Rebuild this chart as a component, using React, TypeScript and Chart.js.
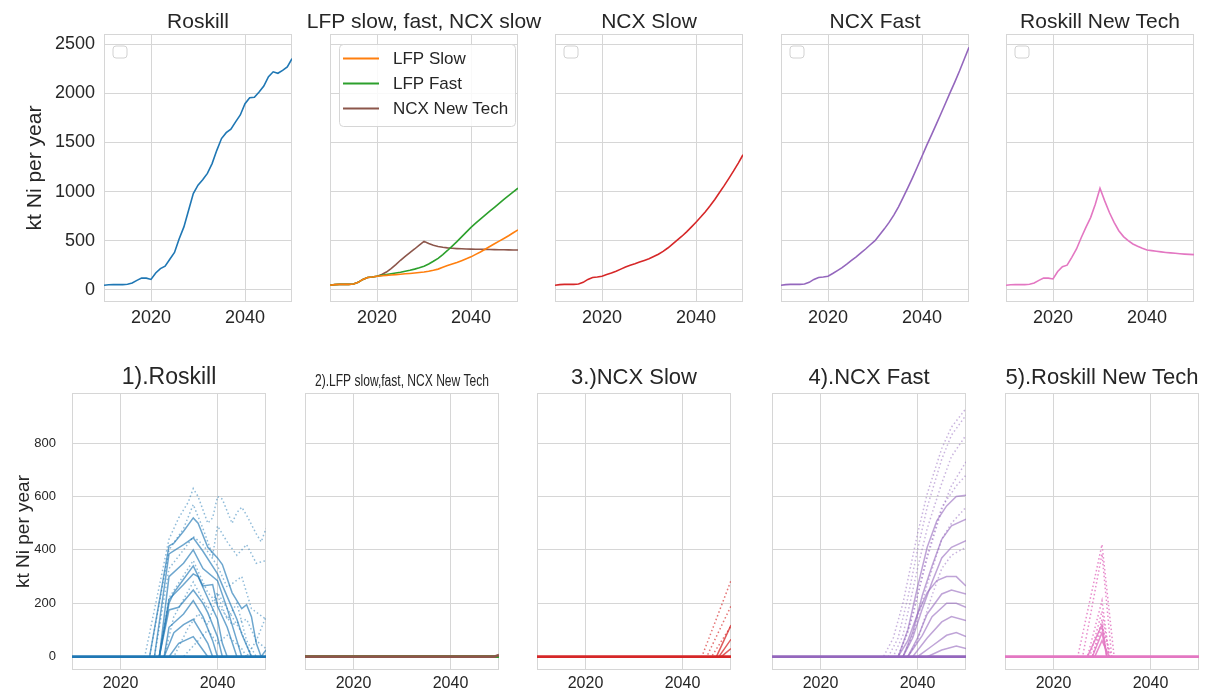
import React, { useEffect, useRef } from "react";
import { Chart, registerables } from "chart.js";

Chart.register(...registerables);

const FONT = "'Liberation Sans', Arial, Helvetica, sans-serif";
const TEXT = "#262626";
const GRID = "#d6d6d6";

// ---------- axes ----------
const YEARS = [
  2010, 2011, 2012, 2013, 2014, 2015, 2016, 2017, 2018, 2019, 2020,
  2021, 2022, 2023, 2024, 2025, 2026, 2027, 2028, 2029, 2030,
  2031, 2032, 2033, 2034, 2035, 2036, 2037, 2038, 2039, 2040,
  2041, 2042, 2043, 2044, 2045, 2046, 2047, 2048, 2049, 2050,
];
const X_TICKS = [2020, 2040];
const TOP_Y_TICKS = [0, 500, 1000, 1500, 2000, 2500];
const BOTTOM_Y_TICKS = [0, 200, 400, 600, 800];

// ---------- top row series (kt Ni per year) ----------
const ROSKILL = [
  45, 50, 52, 52, 52, 55, 68, 95, 118, 118, 105,
  170, 215, 240, 310, 380, 520, 640, 810, 980, 1065,
  1120, 1185, 1285, 1420, 1540, 1600, 1635, 1710, 1780, 1895,
  1955, 1960, 2015, 2075, 2170, 2220, 2205, 2235, 2270, 2355,
];
const LFP_SLOW = [
  45, 52, 55, 55, 55, 58, 75, 105, 125, 130, 138,
  142, 146, 150, 154, 158, 162, 166, 170, 175, 180,
  188, 198, 210, 228, 247, 262, 278, 296, 315, 335,
  360, 385, 412, 440, 468, 495, 522, 550, 580, 610,
];
const LFP_FAST = [
  45, 52, 55, 55, 55, 58, 75, 105, 125, 130, 138,
  146, 155, 163, 170, 178, 188, 198, 210, 224, 240,
  262, 290, 320, 358, 400, 445, 490, 538, 587, 635,
  678, 720, 760, 800, 840, 880, 920, 958, 996, 1035,
];
const NCX_NEW_TECH = [
  45, 52, 55, 55, 55, 58, 75, 105, 125, 130, 138,
  155, 180, 215, 255, 300, 340, 378, 415, 455, 493,
  470, 452, 440, 432, 426, 422, 419, 417, 415, 414,
  413, 412, 411, 410, 409, 408, 407, 406, 405, 405,
];
const NCX_SLOW = [
  45, 52, 55, 55, 55, 58, 75, 105, 125, 130, 138,
  155, 170, 188, 210, 232, 250, 265, 282, 298, 315,
  338, 362, 390, 425, 465, 505, 545, 590, 638, 688,
  740, 795, 855, 920, 990, 1060, 1135, 1210, 1290, 1375,
];
const NCX_FAST = [
  45, 52, 55, 55, 55, 58, 75, 105, 125, 130, 138,
  165, 195, 225, 260, 298, 335, 375, 415, 458, 500,
  560, 620, 686, 760, 845, 940, 1040, 1142, 1250, 1360,
  1470, 1575, 1682, 1790, 1900, 2010, 2118, 2230, 2350, 2470,
];
const ROSKILL_NEW_TECH = [
  45, 50, 52, 52, 52, 55, 68, 95, 118, 118, 110,
  185, 235, 250, 330, 415, 530, 635, 735, 870, 1034,
  905, 787, 686, 601, 541, 500, 466, 443, 422, 405,
  398, 392, 386, 380, 375, 371, 367, 363, 360, 358,
];

// ---------- bottom row series: [year, kt Ni per year] ----------
type Pair = [number, number];
const ZERO_LINE: Pair[] = [[2010, 0], [2050, 0]];

const B1_SOLID: Pair[][] = [
  [[2010, 0], [2026, 0], [2030, 415], [2031, 425], [2033, 470], [2035, 520], [2036, 500], [2038, 410], [2040, 370], [2041, 345], [2043, 240], [2045, 180], [2046, 195], [2047, 150], [2048, 50], [2049, 0], [2050, 25]],
  [[2010, 0], [2027, 0], [2030, 385], [2033, 420], [2035, 445], [2037, 395], [2040, 310], [2042, 225], [2044, 140], [2045, 85], [2047, 0], [2050, 0]],
  [[2010, 0], [2028, 0], [2030, 300], [2033, 350], [2035, 400], [2037, 330], [2040, 285], [2042, 180], [2044, 60], [2045, 0], [2050, 0]],
  [[2010, 0], [2028, 0], [2030, 200], [2031, 240], [2033, 290], [2035, 340], [2037, 265], [2039, 270], [2040, 190], [2042, 110], [2044, 0], [2050, 0]],
  [[2010, 0], [2028, 0], [2030, 215], [2033, 270], [2035, 310], [2036, 300], [2038, 220], [2040, 140], [2041, 50], [2042, 0], [2050, 0]],
  [[2010, 0], [2028, 0], [2030, 175], [2032, 185], [2035, 250], [2037, 200], [2038, 165], [2040, 75], [2041, 0], [2050, 0]],
  [[2010, 0], [2029, 0], [2030, 110], [2033, 160], [2035, 210], [2037, 150], [2039, 60], [2040, 0], [2050, 0]],
  [[2010, 0], [2029, 0], [2031, 90], [2033, 120], [2035, 140], [2037, 80], [2038, 50], [2039, 0], [2050, 0]],
  [[2010, 0], [2030, 0], [2032, 50], [2035, 75], [2037, 25], [2038, 0], [2050, 0]],
];
const B1_DOTTED: Pair[][] = [
  [[2010, 0], [2025, 0], [2030, 440], [2032, 520], [2034, 580], [2035, 630], [2036, 600], [2038, 500], [2039, 520], [2040, 600], [2041, 590], [2043, 500], [2044, 540], [2045, 560], [2046, 530], [2048, 460], [2049, 430], [2050, 480]],
  [[2010, 0], [2026, 0], [2030, 400], [2033, 480], [2035, 570], [2037, 480], [2039, 380], [2040, 490], [2042, 430], [2044, 380], [2046, 420], [2048, 350], [2050, 360]],
  [[2010, 0], [2027, 0], [2030, 330], [2033, 400], [2035, 450], [2037, 420], [2040, 340], [2042, 260], [2045, 300], [2047, 180], [2050, 140]],
  [[2010, 0], [2028, 0], [2030, 220], [2035, 360], [2038, 240], [2040, 200], [2043, 120], [2046, 140], [2048, 60], [2050, 30]],
  [[2010, 0], [2029, 0], [2031, 150], [2035, 280], [2038, 180], [2040, 240], [2043, 150], [2045, 90], [2047, 0], [2050, 0]],
  [[2010, 0], [2031, 0], [2034, 110], [2036, 160], [2038, 120], [2040, 230], [2042, 140], [2044, 200], [2046, 60], [2048, 0], [2050, 0]],
  [[2010, 0], [2033, 0], [2036, 60], [2038, 100], [2040, 50], [2042, 80], [2045, 30], [2046, 0], [2050, 0]],
  [[2010, 0], [2046, 0], [2048, 60], [2050, 150]],
];

const B2_LFP_SLOW: Pair[] = [[2010, 0], [2050, 0]];
const B2_LFP_FAST: Pair[] = [[2010, 0], [2050, 0]];
const B2_NCX_NEW_TECH: Pair[] = [[2010, 0], [2049, 0], [2050, 6]];

const B3_SOLID: Pair[][] = [
  [[2010, 0], [2047, 0], [2050, 118]],
  [[2010, 0], [2047.5, 0], [2050, 65]],
  [[2010, 0], [2048, 0], [2050, 30]],
];
const B3_DOTTED: Pair[][] = [
  [[2010, 0], [2044, 0], [2050, 285]],
  [[2010, 0], [2045, 0], [2050, 190]],
  [[2010, 0], [2046, 0], [2050, 115]],
];

const B4_SOLID: Pair[][] = [
  [[2010, 0], [2036, 0], [2038, 100], [2040, 260], [2042, 410], [2044, 510], [2046, 565], [2048, 600], [2050, 605]],
  [[2010, 0], [2037, 0], [2039, 90], [2041, 230], [2043, 340], [2045, 440], [2047, 490], [2050, 515]],
  [[2010, 0], [2037, 0], [2039, 70], [2041, 180], [2043, 280], [2045, 370], [2047, 410], [2050, 435]],
  [[2010, 0], [2036, 0], [2038, 60], [2040, 160], [2042, 240], [2044, 285], [2046, 300], [2048, 300], [2050, 265]],
  [[2010, 0], [2038, 0], [2040, 70], [2042, 160], [2045, 235], [2047, 250], [2050, 235]],
  [[2010, 0], [2038, 0], [2041, 80], [2043, 150], [2046, 200], [2048, 200], [2050, 185]],
  [[2010, 0], [2039, 0], [2042, 70], [2045, 130], [2047, 150], [2050, 135]],
  [[2010, 0], [2040, 0], [2043, 40], [2046, 80], [2048, 90], [2050, 75]],
  [[2010, 0], [2042, 0], [2045, 25], [2048, 40], [2050, 30]],
];
const B4_DOTTED: Pair[][] = [
  [[2010, 0], [2033, 0], [2035, 70], [2037, 200], [2040, 460], [2042, 610], [2045, 780], [2047, 860], [2050, 930]],
  [[2010, 0], [2034, 0], [2036, 70], [2038, 220], [2040, 400], [2042, 560], [2045, 740], [2047, 830], [2050, 905]],
  [[2010, 0], [2035, 0], [2037, 80], [2040, 330], [2042, 480], [2045, 650], [2047, 750], [2050, 830]],
  [[2010, 0], [2036, 0], [2038, 90], [2040, 230], [2042, 370], [2045, 550], [2047, 640], [2050, 730]],
  [[2010, 0], [2036, 0], [2039, 150], [2042, 380], [2045, 560], [2048, 640], [2050, 680]],
  [[2010, 0], [2037, 0], [2039, 80], [2042, 270], [2045, 440], [2047, 500], [2050, 560]],
  [[2010, 0], [2038, 0], [2040, 60], [2043, 230], [2045, 330], [2047, 380], [2050, 410]],
];

const B5_SOLID: Pair[][] = [
  [[2010, 0], [2027, 0], [2030, 120], [2031, 0], [2050, 0]],
  [[2010, 0], [2028, 0], [2030, 90], [2031, 0], [2050, 0]],
  [[2010, 0], [2028.5, 0], [2030, 60], [2031.5, 0], [2050, 0]],
];
const B5_DOTTED: Pair[][] = [
  [[2010, 0], [2025, 0], [2030, 420], [2032.5, 0], [2050, 0]],
  [[2010, 0], [2026, 0], [2030, 385], [2032, 0], [2050, 0]],
  [[2010, 0], [2027, 0], [2030, 210], [2031.5, 0], [2050, 0]],
  [[2010, 0], [2027.5, 0], [2030, 170], [2031.5, 0], [2050, 0]],
  [[2010, 0], [2028, 0], [2030, 140], [2031, 0], [2050, 0]],
  [[2010, 0], [2028, 0], [2030, 110], [2032, 0], [2050, 0]],
];

// ---------- styles ----------
const COLORS = {
  blue: [31, 119, 180],
  orange: [255, 127, 14],
  green: [44, 160, 44],
  red: [214, 39, 40],
  purple: [148, 103, 189],
  brown: [140, 86, 75],
  pink: [227, 119, 194],
};
const rgba = (c: number[], a: number) => `rgba(${c[0]},${c[1]},${c[2]},${a})`;

const yearLine = (label: string, values: number[], color: number[]) => ({
  label,
  data: values.map((v, i) => ({ x: YEARS[i], y: v })),
  borderColor: rgba(color, 1),
  borderWidth: 1.6,
  pointRadius: 0,
  tension: 0,
  fill: false,
});

const pairLine = (pairs: Pair[], color: number[], alpha: number, dotted: boolean, width = 1.5) => ({
  label: "",
  data: pairs.map(([x, y]) => ({ x, y })),
  borderColor: rgba(color, alpha),
  borderWidth: width,
  borderDash: dotted ? [1.5, 2.5] : [],
  borderCapStyle: "butt",
  pointRadius: 0,
  tension: 0,
  fill: false,
});

// Chart.js paints dataset 0 on top, so the list runs top-most first.
const bottomSet = (solid: Pair[][], dotted: Pair[][], color: number[], dotAlpha = 0.55, solidAlpha = 0.6) => [
  pairLine(ZERO_LINE, color, 1, false, 2.6),
  ...solid.map((s) => pairLine(s, color, solidAlpha, false)),
  ...dotted.map((s) => pairLine(s, color, dotAlpha, true)),
];

// ---------- panel layout ----------
type PanelSpec = {
  key: string;
  title: string;
  titleSize: number;
  titleMaxWidth?: number;
  titleGap: number;
  plotLeft: number;
  plotTop: number;
  plotW: number;
  plotH: number;
  L: number;
  T: number;
  R: number;
  B: number;
  yMin: number;
  yMax: number;
  yTicks: number[];
  showY: boolean;
  yLabel?: string;
  yLabelSize: number;
  yLabelPad: number;
  yTickSize: number;
  yTickPad: number;
  xTickSize: number;
  xTickPad: number;
  emptyLegend?: boolean;
  legend?: boolean;
  datasets: any[];
};

const TOP_LEFTS = [104, 330, 555, 781, 1006];
const BOTTOM_LEFTS = [72, 305, 537, 772, 1005];

const topPanel = (i: number, title: string, datasets: any[], extra: Partial<PanelSpec> = {}): PanelSpec => ({
  key: "t" + i,
  title,
  titleSize: 21,
  titleGap: 6,
  plotLeft: TOP_LEFTS[i],
  plotTop: 34,
  plotW: 188,
  plotH: 268,
  L: i === 0 ? TOP_LEFTS[0] : 34,
  T: 34,
  R: 34,
  B: 40,
  yMin: -125,
  yMax: 2605,
  yTicks: TOP_Y_TICKS,
  showY: i === 0,
  yLabel: i === 0 ? "kt Ni per year" : undefined,
  yLabelSize: 21,
  yLabelPad: 22.4,
  yTickSize: 18,
  yTickPad: 9,
  xTickSize: 18,
  xTickPad: 5,
  datasets,
  ...extra,
});

const bottomPanel = (i: number, title: string, datasets: any[], extra: Partial<PanelSpec> = {}): PanelSpec => ({
  key: "b" + i,
  title,
  titleSize: 22,
  titleGap: 9,
  plotLeft: BOTTOM_LEFTS[i],
  plotTop: 393,
  plotW: 194,
  plotH: 277,
  L: i === 0 ? BOTTOM_LEFTS[0] : 30,
  T: 43,
  R: 30,
  B: 25,
  yMin: -50,
  yMax: 988,
  yTicks: BOTTOM_Y_TICKS,
  showY: i === 0,
  yLabel: i === 0 ? "kt Ni per year" : undefined,
  yLabelSize: 19,
  yLabelPad: 12.6,
  yTickSize: 13,
  yTickPad: 16,
  xTickSize: 16,
  xTickPad: 4,
  datasets,
  ...extra,
});

const PANELS: PanelSpec[] = [
  topPanel(0, "Roskill", [yearLine("Roskill", ROSKILL, COLORS.blue)], { emptyLegend: true }),
  topPanel(
    1,
    "LFP slow, fast, NCX slow",
    [
      yearLine("LFP Slow", LFP_SLOW, COLORS.orange),
      yearLine("LFP Fast", LFP_FAST, COLORS.green),
      yearLine("NCX New Tech", NCX_NEW_TECH, COLORS.brown),
    ],
    { legend: true }
  ),
  topPanel(2, "NCX Slow", [yearLine("NCX Slow", NCX_SLOW, COLORS.red)], { emptyLegend: true }),
  topPanel(3, "NCX Fast", [yearLine("NCX Fast", NCX_FAST, COLORS.purple)], { emptyLegend: true }),
  topPanel(4, "Roskill New Tech", [yearLine("Roskill New Tech", ROSKILL_NEW_TECH, COLORS.pink)], { emptyLegend: true }),
  bottomPanel(0, "1).Roskill", bottomSet(B1_SOLID, B1_DOTTED, COLORS.blue, 0.5, 0.65), { titleSize: 23 }),
  bottomPanel(
    1,
    "2).LFP slow,fast, NCX New Tech",
    [
      pairLine(B2_NCX_NEW_TECH, COLORS.brown, 1, false, 2.6),
      pairLine(B2_LFP_FAST, COLORS.green, 1, false, 2.6),
      pairLine(B2_LFP_SLOW, COLORS.orange, 1, false, 2.6),
    ],
    { titleSize: 16, titleMaxWidth: 174, titleGap: 7 }
  ),
  bottomPanel(2, "3.)NCX Slow", bottomSet(B3_SOLID, B3_DOTTED, COLORS.red, 0.65, 0.75)),
  bottomPanel(3, "4).NCX Fast", bottomSet(B4_SOLID, B4_DOTTED, COLORS.purple, 0.5, 0.6)),
  bottomPanel(4, "5).Roskill New Tech", bottomSet(B5_SOLID, B5_DOTTED, COLORS.pink, 0.85, 0.85)),
];

function Panel({ p }: { p: PanelSpec }) {
  const ref = useRef<HTMLCanvasElement>(null);
  const w = p.L + p.plotW + p.R;
  const h = p.T + p.plotH + p.B;

  useEffect(() => {
    const canvas = ref.current;
    if (!canvas) return;

    const deco = {
      id: "panelDeco",
      beforeDatasetsDraw(chart: any) {
        const { ctx, chartArea } = chart;
        const { left, top, right, bottom } = chartArea;
        ctx.save();
        ctx.strokeStyle = GRID;
        ctx.lineWidth = 1;
        ctx.strokeRect(Math.round(left) + 0.5, Math.round(top) + 0.5, Math.round(right - left) - 1, Math.round(bottom - top) - 1);
        ctx.restore();
      },
      afterDraw(chart: any) {
        const { ctx, chartArea } = chart;
        const { left, top, right } = chartArea;
        ctx.save();
        // title
        ctx.font = `${p.titleSize}px ${FONT}`;
        ctx.fillStyle = TEXT;
        ctx.textAlign = "center";
        ctx.textBaseline = "alphabetic";
        const cx = (left + right) / 2;
        if (p.titleMaxWidth) ctx.fillText(p.title, cx, top - p.titleGap, p.titleMaxWidth);
        else ctx.fillText(p.title, cx, top - p.titleGap);

        // empty legend frame (legend with no entries)
        if (p.emptyLegend) {
          ctx.beginPath();
          ctx.roundRect(left + 9, top + 12, 14, 12, 3);
          ctx.fillStyle = "#ffffff";
          ctx.fill();
          ctx.strokeStyle = "#d2d2d2";
          ctx.lineWidth = 1;
          ctx.stroke();
        }

        // legend
        if (p.legend) {
          const lx = left + 9;
          const ly = top + 10;
          ctx.beginPath();
          ctx.roundRect(lx + 0.5, ly + 0.5, 176, 82, 4);
          ctx.fillStyle = "rgba(255,255,255,0.85)";
          ctx.fill();
          ctx.strokeStyle = "#d6d6d6";
          ctx.lineWidth = 1;
          ctx.stroke();
          ctx.font = `17px ${FONT}`;
          ctx.textAlign = "left";
          ctx.textBaseline = "middle";
          chart.data.datasets.forEach((ds: any, k: number) => {
            const yy = ly + 14.5 + k * 25;
            ctx.beginPath();
            ctx.moveTo(lx + 4, yy);
            ctx.lineTo(lx + 40, yy);
            ctx.strokeStyle = ds.borderColor;
            ctx.lineWidth = 2;
            ctx.stroke();
            ctx.fillStyle = TEXT;
            ctx.fillText(ds.label, lx + 54, yy + 1);
          });
        }
        ctx.restore();
      },
    };

    const chart = new Chart(canvas, {
      type: "line",
      data: { datasets: p.datasets },
      options: {
        animation: false,
        responsive: false,
        maintainAspectRatio: false,
        events: [],
        layout: { padding: { top: p.T, right: p.R, left: 0, bottom: 0 } },
        plugins: {
          legend: { display: false },
          tooltip: { enabled: false },
          title: { display: false },
        },
        scales: {
          x: {
            type: "linear",
            min: 2010,
            max: 2050,
            afterBuildTicks: (s: any) => {
              s.ticks = X_TICKS.map((v) => ({ value: v }));
            },
            afterFit: (s: any) => {
              s.height = p.B;
            },
            grid: { color: GRID, lineWidth: 1, drawTicks: false },
            border: { display: false },
            ticks: {
              font: { family: FONT, size: p.xTickSize },
              color: TEXT,
              padding: p.xTickPad,
              maxRotation: 0,
              autoSkip: false,
              callback: (v: any) => String(v),
            },
          },
          y: {
            type: "linear",
            min: p.yMin,
            max: p.yMax,
            afterBuildTicks: (s: any) => {
              s.ticks = p.yTicks.map((v) => ({ value: v }));
            },
            afterFit: (s: any) => {
              s.width = p.L;
            },
            grid: { color: GRID, lineWidth: 1, drawTicks: false },
            border: { display: false },
            ticks: {
              display: p.showY,
              font: { family: FONT, size: p.yTickSize },
              color: TEXT,
              padding: p.yTickPad,
              autoSkip: false,
              callback: (v: any) => String(v),
            },
            title: {
              display: !!p.yLabel,
              text: p.yLabel || "",
              font: { family: FONT, size: p.yLabelSize },
              color: TEXT,
              padding: { top: p.yLabelPad, bottom: 0 },
            },
          },
        },
      } as any,
      plugins: [deco as any],
    });
    return () => chart.destroy();
  }, [p]);

  return (
    <canvas
      ref={ref}
      width={w}
      height={h}
      style={{
        position: "absolute",
        left: p.plotLeft - p.L,
        top: p.plotTop - p.T,
        width: w,
        height: h,
      }}
    />
  );
}

export default function App() {
  return (
    <div
      style={{
        position: "fixed",
        left: 0,
        top: 0,
        width: 1209,
        height: 695,
        overflow: "hidden",
        background: "#ffffff",
      }}
    >
      {PANELS.map((p) => (
        <Panel key={p.key} p={p} />
      ))}
    </div>
  );
}
